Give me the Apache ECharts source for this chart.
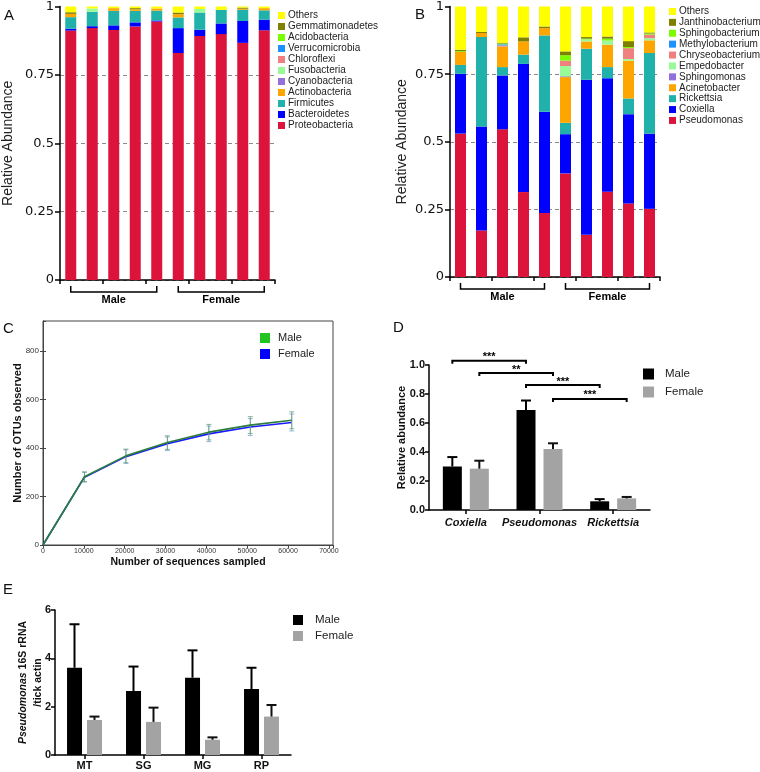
<!DOCTYPE html>
<html>
<head>
<meta charset="utf-8">
<script src="https://cdn.jsdelivr.net/npm/echarts@6/dist/echarts.min.js"></script>
<style>
  html, body { margin: 0; padding: 0; background: #fff; }
  #chart { width: 760px; height: 772px; }
</style>
</head>
<body>
<div id="chart"></div>
<script>
// ---------- A: phylum level, 5 male + 5 female ticks
const sampleIds = ['M1', 'M2', 'M3', 'M4', 'M5', 'F1', 'F2', 'F3', 'F4', 'F5']
// stack order, bottom to top
const phyla = ['Proteobacteria', 'Bacteroidetes', 'Firmicutes', 'Actinobacteria', 'Cyanobacteria',
  'Fusobacteria', 'Chloroflexi', 'Verrucomicrobia', 'Acidobacteria', 'Gemmatimonadetes', 'Others']
const proteobacteria = [0.912, 0.921, 0.914, 0.927, 0.945, 0.830, 0.892, 0.899, 0.867, 0.913]
const bacteroidetes = [0.007, 0.007, 0.017, 0.015, 0.004, 0.091, 0.023, 0.039, 0.080, 0.039]
const firmicutes = [0.042, 0.053, 0.053, 0.042, 0.036, 0.039, 0.063, 0.050, 0.041, 0.034]
const actinobacteria = [0.012, 0, 0.010, 0.006, 0.008, 0.012, 0, 0, 0.004, 0.008]
const cyanobacteria = [0, 0, 0, 0, 0, 0, 0, 0, 0, 0]
const fusobacteria = [0, 0.012, 0, 0, 0, 0, 0.013, 0, 0, 0]
const chloroflexi = [0, 0, 0, 0, 0, 0, 0, 0, 0, 0]
const verrucomicrobia = [0, 0, 0, 0, 0, 0, 0, 0, 0, 0]
const acidobacteria = [0, 0, 0, 0, 0, 0, 0, 0, 0, 0]
const gemmatimonadetes = [0.006, 0, 0, 0.004, 0, 0.006, 0, 0, 0.004, 0]
const othersA = [0.021, 0.007, 0.006, 0.006, 0.007, 0.022, 0.009, 0.012, 0.004, 0.006]
const phylumValues = [proteobacteria, bacteroidetes, firmicutes, actinobacteria, cyanobacteria,
  fusobacteria, chloroflexi, verrucomicrobia, acidobacteria, gemmatimonadetes, othersA]

// ---------- B: genus level
const genera = ['Pseudomonas', 'Coxiella', 'Rickettsia', 'Acinetobacter', 'Sphingomonas',
  'Empedobacter', 'Chryseobacterium', 'Methylobacterium', 'Sphingobacterium', 'Janthinobacterium', 'Others']
const pseudomonas = [0.530, 0.172, 0.546, 0.314, 0.237, 0.383, 0.156, 0.315, 0.272, 0.252]
const coxiella = [0.221, 0.384, 0.199, 0.474, 0.374, 0.145, 0.573, 0.420, 0.330, 0.278]
const rickettsia = [0.033, 0.331, 0.031, 0.034, 0.282, 0.042, 0.115, 0.041, 0.058, 0.298]
const acinetobacter = [0.048, 0.015, 0.076, 0.049, 0.027, 0.169, 0.027, 0.083, 0.140, 0.047]
const sphingomonas = [0, 0, 0, 0, 0, 0.003, 0, 0, 0, 0]
const empedobacter = [0, 0, 0, 0, 0, 0.038, 0.007, 0.015, 0.006, 0.008]
const chryseobacterium = [0, 0, 0.004, 0, 0, 0.020, 0, 0, 0.040, 0.013]
const methylobacterium = [0, 0, 0.004, 0, 0, 0, 0, 0, 0, 0]
const sphingobacterium = [0.003, 0, 0.003, 0, 0, 0.020, 0.003, 0.007, 0.004, 0.004]
const janthinobacterium = [0.005, 0.004, 0.003, 0.015, 0.006, 0.014, 0.006, 0.008, 0.022, 0.004]
const othersB = [0.160, 0.094, 0.134, 0.114, 0.074, 0.166, 0.113, 0.111, 0.128, 0.096]
const genusValues = [pseudomonas, coxiella, rickettsia, acinetobacter, sphingomonas,
  empedobacter, chryseobacterium, methylobacterium, sphingobacterium, janthinobacterium, othersB]

// sex groups under A and B: [first tick, last tick]
const sexGroups = [[0, 4], [5, 9]]
const sexLabels = ['Male', 'Female']

// ---------- C: rarefaction
const seqSampled = [0, 10150, 20300, 30450, 40600, 50750, 60900]
const otuMale = [0, 282, 368, 423, 466, 495, 515]
const otuMaleErr = [0, 20, 28, 28, 32, 35, 35]
const otuFemale = [0, 280, 365, 418, 459, 487, 506]
const otuFemaleErr = [0, 20, 28, 28, 32, 35, 35]

// ---------- D: top genera by sex
const dGenera = ['Coxiella', 'Pseudomonas', 'Rickettsia']
const dMale = [0.30, 0.69, 0.06]
const dMaleErr = [0.065, 0.065, 0.015]
const dFemale = [0.285, 0.42, 0.08]
const dFemaleErr = [0.055, 0.04, 0.01]
// [genus a, side a (-1 male, 1 female), genus b, side b, height]
const dSig = [[0, -1, 1, -1, 1.03], [0, 1, 1, 1, 0.945], [1, -1, 2, -1, 0.862], [1, 1, 2, 1, 0.766]]
const dSigLabels = ['***', '**', '***', '***']

// ---------- E: qPCR by tissue
const tissues = ['MT', 'SG', 'MG', 'RP']
const eMale = [3.61, 2.65, 3.20, 2.73]
const eMaleErr = [1.80, 1.01, 1.13, 0.88]
const eFemale = [1.45, 1.37, 0.63, 1.59]
const eFemaleErr = [0.14, 0.59, 0.10, 0.48]

const phylumColors = {
  Proteobacteria: '#dc143c', Bacteroidetes: '#0000ff', Firmicutes: '#20b2aa', Actinobacteria: '#ffa500',
  Cyanobacteria: '#9370db', Fusobacteria: '#98fb98', Chloroflexi: '#f08080', Verrucomicrobia: '#1e90ff',
  Acidobacteria: '#7cfc00', Gemmatimonadetes: '#808000', Others: '#ffff00'
}
const genusColors = {
  Pseudomonas: '#dc143c', Coxiella: '#0000ff', Rickettsia: '#20b2aa', Acinetobacter: '#ffa500',
  Sphingomonas: '#9370db', Empedobacter: '#98fb98', Chryseobacterium: '#f08080', Methylobacterium: '#1e90ff',
  Sphingobacterium: '#7cfc00', Janthinobacterium: '#808000', Others: '#ffff00'
}

const FONT = 'Liberation Sans'
const stripName = n => n.slice(2)

function stackedBars (panel, xi, names, values, colors) {
  return names.map((n, k) => ({
    name: panel + ':' + n,
    type: 'bar',
    stack: panel,
    xAxisIndex: xi,
    yAxisIndex: xi,
    barWidth: 11,
    data: values[k],
    itemStyle: { color: colors[n] },
    silent: true
  }))
}

function sexBrackets (xi, drop) {
  return {
    type: 'custom',
    xAxisIndex: xi,
    yAxisIndex: xi,
    silent: true,
    clip: false,
    z: 10,
    data: sexGroups,
    renderItem (params, api) {
      const a = api.coord([api.value(0), 0])
      const b = api.coord([api.value(1), 0])
      const y = a[1] + drop
      return {
        type: 'group',
        children: [
          { type: 'polyline', shape: { points: [[a[0], y - 6], [a[0], y], [b[0], y], [b[0], y - 6]] }, style: { stroke: '#000', lineWidth: 1.5, fill: null } },
          { type: 'text', x: (a[0] + b[0]) / 2, y: y + 2, style: { text: sexLabels[params.dataIndex], font: 'bold 11px "Liberation Sans"', fill: '#000', align: 'center', verticalAlign: 'top' } }
        ]
      }
    }
  }
}

function errorBars (xi, yi, vals, errs, offset, color, opts) {
  return {
    type: 'custom',
    xAxisIndex: xi,
    yAxisIndex: yi,
    silent: true,
    clip: false,
    z: opts.z || 5,
    data: vals.map((v, i) => [opts.xs ? opts.xs[i] : i, v, errs[i]]),
    renderItem (params, api) {
      const x = api.value(0)
      const v = api.value(1)
      const e = api.value(2)
      if (!e) return null
      const top = api.coord([x, v + e])
      const bot = api.coord([x, opts.both ? v - e : v])
      const cx = top[0] + offset
      const half = opts.cap / 2
      const st = { stroke: color, lineWidth: opts.lw }
      const children = [
        { type: 'line', shape: { x1: cx, y1: bot[1], x2: cx, y2: top[1] }, style: st },
        { type: 'line', shape: { x1: cx - half, y1: top[1], x2: cx + half, y2: top[1] }, style: st }
      ]
      if (opts.both) children.push({ type: 'line', shape: { x1: cx - half, y1: bot[1], x2: cx + half, y2: bot[1] }, style: st })
      return { type: 'group', children }
    }
  }
}

const sigBrackets = {
  type: 'custom',
  xAxisIndex: 4,
  yAxisIndex: 4,
  silent: true,
  clip: false,
  z: 10,
  data: dSig,
  renderItem (params, api) {
    const off = 13.5
    const y = api.coord([0, api.value(4)])[1]
    const x1 = api.coord([api.value(0), 0])[0] + api.value(1) * off
    const x2 = api.coord([api.value(2), 0])[0] + api.value(3) * off
    return {
      type: 'group',
      children: [
        { type: 'polyline', shape: { points: [[x1, y + 3], [x1, y], [x2, y], [x2, y + 3]] }, style: { stroke: '#000', lineWidth: 2, fill: null } },
        { type: 'text', x: (x1 + x2) / 2, y: y + 2, style: { text: dSigLabels[params.dataIndex], font: 'bold 11px "Liberation Sans"', fill: '#000', align: 'center', verticalAlign: 'bottom' } }
      ]
    }
  }
}

const abYAxis = (grid, gap) => ({
  type: 'value',
  gridIndex: grid,
  min: 0,
  max: 1,
  interval: 0.25,
  name: 'Relative Abundance',
  nameLocation: 'middle',
  nameGap: gap,
  nameMoveOverlap: false,
  nameTextStyle: { fontFamily: FONT, fontSize: 14, color: '#222' },
  axisLine: { show: true, lineStyle: { color: '#000', width: 1.5 } },
  axisTick: { show: true, length: 5, lineStyle: { color: '#000', width: 1.5 } },
  axisLabel: { fontFamily: 'DejaVu Sans', fontSize: 13, color: '#111', margin: 6 },
  splitLine: { show: true, showMaxLine: false, lineStyle: { color: '#8a8a8a', type: [4, 3], width: 1 } }
})

const abXAxis = (grid) => ({
  type: 'category',
  gridIndex: grid,
  data: sampleIds,
  axisLine: { lineStyle: { color: '#000', width: 1.5 } },
  axisTick: { show: true, length: 4, lineStyle: { color: '#000', width: 1.5 } },
  axisLabel: { show: false }
})

const gpLine = { show: true, lineStyle: { color: '#000', width: 1.5 } }
const gpTick = { show: true, length: 4, lineStyle: { color: '#000', width: 1.5 } }

const smallLegend = (left, top, names, h) => ({
  orient: 'vertical',
  left,
  top,
  padding: 0,
  itemGap: 0,
  itemWidth: 7,
  itemHeight: 7,
  icon: 'rect',
  selectedMode: false,
  formatter: stripName,
  textStyle: { fontFamily: FONT, fontSize: 10, color: '#222', lineHeight: h, padding: [0, 0, 0, -2] },
  data: names.slice().reverse()
})

const sexLegend = (left, top, panel, maleColor, femaleColor, size, fs, h, pad) => ({
  orient: 'vertical',
  left,
  top,
  padding: 0,
  itemGap: 0,
  itemWidth: size,
  itemHeight: size,
  icon: 'rect',
  selectedMode: false,
  formatter: stripName,
  textStyle: { fontFamily: FONT, fontSize: fs, color: '#222', lineHeight: h, padding: [0, 0, 0, pad] },
  data: [
    { name: panel + ':Male', itemStyle: { color: maleColor } },
    { name: panel + ':Female', itemStyle: { color: femaleColor } }
  ]
})

const panelLetter = (text, left, top) => ({
  type: 'text', left, top,
  style: { text, font: '15px "Liberation Sans"', fill: '#111' }
})

const chart = echarts.init(document.getElementById('chart'))
const option = {
  backgroundColor: '#fff',
  animation: false,
  graphic: [
    panelLetter('A', 4, 8),
    panelLetter('B', 415, 7),
    panelLetter('C', 3, 321),
    panelLetter('D', 393, 320),
    panelLetter('E', 3, 582)
  ],
  legend: [
    smallLegend(278, 10, phyla.map(p => 'A:' + p), 11),
    smallLegend(669, 6, genera.map(g => 'B:' + g), 10.9),
    sexLegend(260, 330, 'C', '#22c422', '#0000ff', 10, 11, 16, 3),
    sexLegend(643, 365, 'D', '#000000', '#a3a3a3', 11, 11.5, 18, 6),
    sexLegend(293, 612, 'E', '#000000', '#a3a3a3', 10, 11.5, 16, 7)
  ],
  grid: [
    { left: 59, top: 5, width: 216, height: 275 },
    { left: 450, top: 5, width: 210, height: 272 },
    { left: 43, top: 321, width: 290, height: 224, show: true, borderColor: '#444', borderWidth: 1 },
    { left: 429, top: 365, width: 221, height: 145 },
    { left: 55, top: 610, width: 236, height: 145 }
  ],
  xAxis: [
    abXAxis(0),
    abXAxis(1),
    {
      type: 'value',
      gridIndex: 2,
      min: 0,
      max: 71000,
      interval: 10000,
      name: 'Number of sequences sampled',
      nameLocation: 'middle',
      nameGap: 12,
      nameMoveOverlap: false,
      nameTextStyle: { fontFamily: FONT, fontSize: 10.5, fontWeight: 'bold', color: '#111', verticalAlign: 'top' },
      axisLine: { lineStyle: { color: '#444', width: 1 } },
      axisTick: { length: 3, lineStyle: { color: '#444' } },
      axisLabel: { fontFamily: FONT, fontSize: 7, color: '#333', margin: 3, showMaxLabel: false, formatter: v => String(v) },
      splitLine: { show: false }
    },
    {
      type: 'value',
      gridIndex: 2,
      position: 'top',
      min: 0,
      max: 71000,
      interval: 10000,
      axisLine: { lineStyle: { color: '#444', width: 1 } },
      axisTick: { inside: true, length: 3, lineStyle: { color: '#444' } },
      axisLabel: { show: false },
      splitLine: { show: false }
    },
    {
      type: 'category',
      gridIndex: 3,
      data: dGenera,
      axisLine: gpLine,
      axisTick: Object.assign({ alignWithLabel: true }, gpTick),
      axisLabel: { interval: 0, fontFamily: FONT, fontSize: 11, fontWeight: 'bold', fontStyle: 'italic', color: '#111', margin: 7 }
    },
    {
      type: 'category',
      gridIndex: 4,
      data: tissues,
      axisLine: gpLine,
      axisTick: Object.assign({ alignWithLabel: true }, gpTick),
      axisLabel: { interval: 0, fontFamily: FONT, fontSize: 11, fontWeight: 'bold', color: '#111', margin: 5 }
    }
  ],
  yAxis: [
    abYAxis(0, 45),
    abYAxis(1, 41),
    {
      type: 'value',
      gridIndex: 2,
      min: 0,
      max: 925,
      interval: 200,
      name: 'Number of OTUs observed',
      nameLocation: 'middle',
      nameGap: 19.5,
      nameMoveOverlap: false,
      nameTextStyle: { fontFamily: FONT, fontSize: 11, fontWeight: 'bold', color: '#111' },
      axisLine: { show: true, lineStyle: { color: '#444', width: 1 } },
      axisTick: { show: true, length: 3, lineStyle: { color: '#444' } },
      axisLabel: { fontFamily: FONT, fontSize: 8, color: '#333', margin: 4, showMaxLabel: false },
      splitLine: { show: false }
    },
    {
      type: 'value',
      gridIndex: 2,
      position: 'right',
      min: 0,
      max: 925,
      interval: 200,
      axisLine: { show: true, lineStyle: { color: '#444', width: 1 } },
      axisTick: { show: true, length: 3, lineStyle: { color: '#444' } },
      axisLabel: { show: false },
      splitLine: { show: false }
    },
    {
      type: 'value',
      gridIndex: 3,
      min: 0,
      max: 1,
      interval: 0.2,
      name: 'Relative abundance',
      nameLocation: 'middle',
      nameGap: 21.5,
      nameMoveOverlap: false,
      nameTextStyle: { fontFamily: FONT, fontSize: 11, fontWeight: 'bold', color: '#111' },
      axisLine: gpLine,
      axisTick: gpTick,
      axisLabel: { fontFamily: FONT, fontSize: 11, fontWeight: 'bold', color: '#111', margin: 4, formatter: v => v.toFixed(1) },
      splitLine: { show: false }
    },
    {
      type: 'value',
      gridIndex: 4,
      min: 0,
      max: 6,
      interval: 2,
      name: '{i|Pseudomonas} 16S rRNA\n/tick actin',
      nameLocation: 'middle',
      nameGap: 10,
      nameMoveOverlap: false,
      nameTextStyle: {
        fontFamily: FONT, fontSize: 10.5, fontWeight: 'bold', color: '#111', lineHeight: 14.5,
        rich: { i: { fontFamily: FONT, fontSize: 10.5, fontWeight: 'bold', fontStyle: 'italic', color: '#111', lineHeight: 14.5 } }
      },
      axisLine: gpLine,
      axisTick: gpTick,
      axisLabel: { fontFamily: FONT, fontSize: 11, fontWeight: 'bold', color: '#111', margin: 4 },
      splitLine: { show: false }
    }
  ],
  series: [
    ...stackedBars('A', 0, phyla, phylumValues, phylumColors),
    sexBrackets(0, 12),
    ...stackedBars('B', 1, genera, genusValues, genusColors),
    sexBrackets(1, 12),
    // C
    {
      name: 'C:Female', type: 'line', xAxisIndex: 2, yAxisIndex: 2, symbol: 'none', silent: true,
      data: seqSampled.map((x, i) => [x, otuFemale[i]]),
      itemStyle: { color: '#0000ff' },
      lineStyle: { color: '#1a1aff', width: 1.6 }
    },
    errorBars(2, 2, otuFemale, otuFemaleErr, 0, 'rgba(120,160,210,0.75)', { xs: seqSampled, both: true, cap: 5, lw: 1 }),
    errorBars(2, 2, otuMale, otuMaleErr, 0, 'rgba(90,150,110,0.7)', { xs: seqSampled, both: true, cap: 5, lw: 1 }),
    {
      name: 'C:Male', type: 'line', xAxisIndex: 2, yAxisIndex: 2, symbol: 'none', silent: true, z: 6,
      data: seqSampled.map((x, i) => [x, otuMale[i]]),
      itemStyle: { color: '#22c422' },
      lineStyle: { color: '#2a7d3a', width: 1.6 }
    },
    // D
    {
      name: 'D:Male', type: 'bar', xAxisIndex: 4, yAxisIndex: 4, barWidth: 19, barGap: '42%', silent: true,
      data: dMale, itemStyle: { color: '#000' }
    },
    {
      name: 'D:Female', type: 'bar', xAxisIndex: 4, yAxisIndex: 4, barWidth: 19, barGap: '42%', silent: true,
      data: dFemale, itemStyle: { color: '#a3a3a3' }
    },
    errorBars(4, 4, dMale, dMaleErr, -13.5, '#000', { cap: 10, lw: 2 }),
    errorBars(4, 4, dFemale, dFemaleErr, 13.5, '#111', { cap: 10, lw: 2 }),
    sigBrackets,
    // E
    {
      name: 'E:Male', type: 'bar', xAxisIndex: 5, yAxisIndex: 5, barWidth: 15, barGap: '33%', silent: true,
      data: eMale, itemStyle: { color: '#000' }
    },
    {
      name: 'E:Female', type: 'bar', xAxisIndex: 5, yAxisIndex: 5, barWidth: 15, barGap: '33%', silent: true,
      data: eFemale, itemStyle: { color: '#a3a3a3' }
    },
    errorBars(5, 5, eMale, eMaleErr, -10, '#000', { cap: 10, lw: 2 }),
    errorBars(5, 5, eFemale, eFemaleErr, 10, '#111', { cap: 10, lw: 2 })
  ]
}
chart.setOption(option)
</script>
</body>
</html>
